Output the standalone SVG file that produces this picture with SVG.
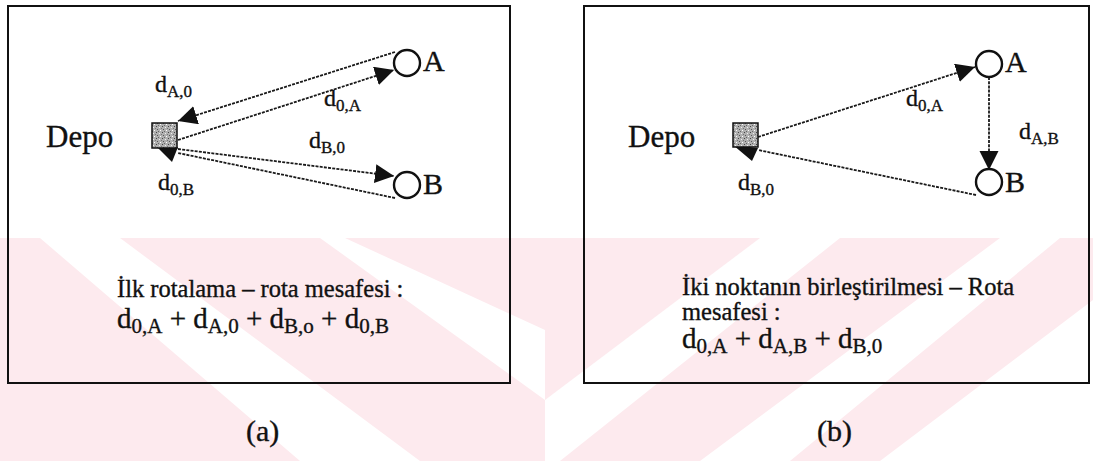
<svg xmlns="http://www.w3.org/2000/svg" width="1093" height="461" viewBox="0 0 1093 461">
<defs>
<style>
text{font-family:"Liberation Serif","Times New Roman",serif;fill:#111;stroke:#111;stroke-width:0.35}
.box{fill:none;stroke:#111;stroke-width:2}
.depo{font-size:31px}
.node{font-size:30px}
.lbl{font-size:24px}
.sub{font-size:17px}
.cap{font-size:24.5px}
.fd{font-size:29px}
.fs{font-size:21px}
.tag{font-size:30px}
.conn{fill:none;stroke:#1a1a1a;stroke-width:1.8;stroke-dasharray:3 1.2}
.circ{fill:#fff;stroke:#111;stroke-width:2.4}
.sq{fill:url(#stip);stroke:#111;stroke-width:1.5}
.wm{fill:#fdeaee}
</style>
<pattern id="stip" width="6" height="6" patternUnits="userSpaceOnUse">
<rect width="6" height="6" fill="#b0b0b0"/>
<rect x="0" y="0" width="1" height="1" fill="#444"/>
<rect x="3" y="1" width="1" height="1" fill="#eee"/>
<rect x="1" y="3" width="1" height="1" fill="#555"/>
<rect x="4" y="4" width="1" height="1" fill="#fff"/>
<rect x="2" y="5" width="1" height="1" fill="#666"/>
<rect x="5" y="2" width="1" height="1" fill="#777"/>
</pattern>
<marker id="ah" markerUnits="userSpaceOnUse" markerWidth="22" markerHeight="22" refX="19" refY="9.5" orient="auto">
<path d="M0,0 L19,9.5 L0,19 z" fill="#111"/>
</marker>
</defs>
<rect width="1093" height="461" fill="#fff"/>
<g id="watermark">
<polygon class="wm" points="0,238 40,238 300,461 0,461"/>
<polygon class="wm" points="120,238 320,238 545,400 545,461 420,461"/>
<polygon class="wm" points="345,238 545,238 545,330"/>
<polygon class="wm" points="545,238 760,238 545,400"/>
<polygon class="wm" points="840,238 1000,238 700,461 560,461"/>
<polygon class="wm" points="1060,238 1093,238 1093,300 880,461 790,461"/>
</g>
<g id="panel-a">
<rect class="box" x="8" y="6" width="502" height="377"/>
</g>
<g id="panel-b">
<rect class="box" x="584" y="6" width="505" height="377"/>
</g>
<g id="connectors">
<line class="conn" x1="395" y1="52" x2="178" y2="121" marker-end="url(#ah)"/>
<line class="conn" x1="178" y1="140" x2="394" y2="70" marker-end="url(#ah)"/>
<line class="conn" x1="178" y1="149" x2="394" y2="176" marker-end="url(#ah)"/>
<line class="conn" x1="395" y1="198" x2="178" y2="153"/>
<polygon points="153,143 178,147 172,162" fill="#111"/>
<line class="conn" x1="758" y1="137" x2="975" y2="67" marker-end="url(#ah)"/>
<line class="conn" x1="989" y1="77" x2="989" y2="170" marker-end="url(#ah)"/>
<line class="conn" x1="976" y1="195" x2="758" y2="150"/>
<polygon points="733,145 758,148 752,161" fill="#111"/>
</g>
<g id="a-depo">
<text class="depo" x="46" y="147">Depo</text>
<rect class="sq" x="152" y="123" width="25" height="25"/>
</g>
<g id="a-nodeA">
<circle class="circ" cx="407" cy="63" r="13"/>
<text class="node" x="423" y="71">A</text>
</g>
<g id="a-nodeB">
<circle class="circ" cx="407" cy="185" r="13"/>
<text class="node" x="423" y="194">B</text>
</g>
<g id="a-labels">
<text class="lbl" x="155" y="92">d<tspan class="sub" dy="5">A,0</tspan></text>
<text class="lbl" x="324" y="106">d<tspan class="sub" dy="5">0,A</tspan></text>
<text class="lbl" x="309" y="148">d<tspan class="sub" dy="5">B,0</tspan></text>
<text class="lbl" x="158" y="190">d<tspan class="sub" dy="5">0,B</tspan></text>
</g>
<g id="a-caption">
<text class="cap" x="117" y="297">İlk rotalama – rota mesafesi :</text>
<text x="117" y="328"><tspan class="fd">d</tspan><tspan class="fs" dy="5">0,A</tspan><tspan class="fd" dy="-5"> + d</tspan><tspan class="fs" dy="5">A,0</tspan><tspan class="fd" dy="-5"> + d</tspan><tspan class="fs" dy="5">B,o</tspan><tspan class="fd" dy="-5"> + d</tspan><tspan class="fs" dy="5">0,B</tspan></text>
</g>
<text class="tag" x="246" y="441">(a)</text>
<g id="b-depo">
<text class="depo" x="628" y="147">Depo</text>
<rect class="sq" x="733" y="123" width="25" height="24"/>
</g>
<g id="b-nodeA">
<circle class="circ" cx="989" cy="64" r="13"/>
<text class="node" x="1005" y="72">A</text>
</g>
<g id="b-nodeB">
<circle class="circ" cx="989" cy="182" r="13"/>
<text class="node" x="1005" y="192">B</text>
</g>
<g id="b-labels">
<text class="lbl" x="906" y="106">d<tspan class="sub" dy="5">0,A</tspan></text>
<text class="lbl" x="1019" y="139">d<tspan class="sub" dy="5">A,B</tspan></text>
<text class="lbl" x="738" y="190">d<tspan class="sub" dy="5">B,0</tspan></text>
</g>
<g id="b-caption">
<text class="cap" x="682" y="295">İki noktanın birleştirilmesi – Rota</text>
<text class="cap" x="682" y="320">mesafesi :</text>
<text x="682" y="348"><tspan class="fd">d</tspan><tspan class="fs" dy="5">0,A</tspan><tspan class="fd" dy="-5"> + d</tspan><tspan class="fs" dy="5">A,B</tspan><tspan class="fd" dy="-5"> + d</tspan><tspan class="fs" dy="5">B,0</tspan></text>
</g>
<text class="tag" x="817" y="441">(b)</text>
</svg>
